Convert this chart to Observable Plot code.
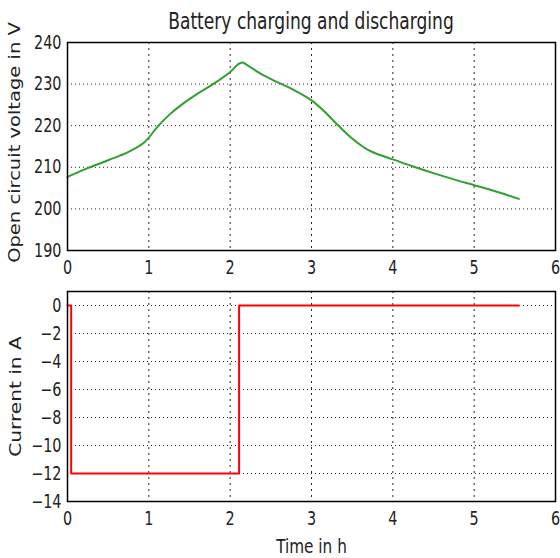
<!DOCTYPE html>
<html>
<head>
<meta charset="utf-8">
<script src="https://cdn.jsdelivr.net/npm/d3@7"></script>
<script src="https://cdn.jsdelivr.net/npm/@observablehq/plot@0.6"></script>
<style>
  html, body { margin: 0; padding: 0; background: white; }
  #wrap { width: 560px; height: 558px; position: relative; overflow: hidden; }
  #title { height: 30px; width: 488px; margin-left: 67px; text-align: center;
           font-family: "DejaVu Sans Condensed", "DejaVu Sans", sans-serif; font-size: 19px;
           line-height: 40px; color: #222; white-space: nowrap; transform: scaleY(1.2); transform-origin: 50% 60%; }
  svg { display: block; overflow: visible; }
</style>
</head>
<body>
<div id="wrap">
  <div id="title">Battery charging and discharging</div>
  <div id="p1"></div>
  <div id="p2"></div>
</div>
<script>
// Time (h) and open circuit voltage (V)
const voltTime = [0, 0.25, 0.5, 0.75, 0.95, 1.1, 1.25, 1.4, 1.6, 1.8, 2.0, 2.1, 2.15, 2.2, 2.4, 2.6, 2.8, 3.0, 3.15, 3.3, 3.5, 3.7, 3.85, 4.0, 4.25, 4.5, 4.75, 5.0, 5.25, 5.55];
const voltage  = [207.7, 209.8, 211.7, 213.7, 216.1, 219.6, 222.6, 225.0, 227.7, 230.1, 232.9, 234.8, 235.2, 234.7, 232.2, 230.3, 228.4, 226.1, 223.6, 220.6, 216.9, 214.1, 212.9, 211.9, 210.2, 208.6, 207.1, 205.7, 204.3, 202.4];
// Time (h) and current (A)
const currTime = [0, 0.045, 0.045, 2.11, 2.11, 5.55];
const current  = [0, 0, -12, -12, 0, 0];

const xTicks = [0, 1, 2, 3, 4, 5, 6];
const vTicks = [190, 200, 210, 220, 230, 240];
const iTicks = [-14, -12, -10, -8, -6, -4, -2, 0];

const xLabel = "Time in h";
const vLabel = "Open circuit voltage in V";
const iLabel = "Current in A";

const voltData = voltTime.map((t, i) => ({t, v: voltage[i]}));
const currData = currTime.map((t, i) => ({t, a: current[i]}));

const tickFont = "'DejaVu Sans Condensed', 'DejaVu Sans', sans-serif";
const labelFont = "'DejaVu Sans', sans-serif";

function common(yTicks) {
  return [
    Plot.gridY(yTicks, {stroke: "black", strokeOpacity: 0.85, strokeDasharray: "1,3", strokeWidth: 1}),
    Plot.gridX(xTicks, {stroke: "black", strokeOpacity: 0.85, strokeDasharray: "2,4", strokeWidth: 1}),
    Plot.axisY(yTicks, {tickSize: 0, tickPadding: 6, fontSize: 16, fontFamily: tickFont, fill: "#222", label: null}),
    Plot.axisX(xTicks, {tickSize: 0, tickPadding: 11, fontSize: 16, fontFamily: tickFont, fill: "#222", label: null})
  ];
}

// mimic the reference's stretched text: scale each text around its own centre
function stretch(svg) {
  svg.querySelectorAll("text").forEach(el => {
    const txt = el.textContent;
    const bb = el.getBBox();
    const cx = bb.x + bb.width / 2, cy = bb.y + bb.height / 2;
    const rotated = txt === vLabel || txt === iLabel;
    const sx = txt === vLabel ? 1.22 : rotated ? 1.26 : 1, sy = rotated ? 1 : 1.18;
    const prev = el.getAttribute("transform") || "";
    el.setAttribute("transform", `${prev} translate(${cx},${cy}) scale(${sx},${sy}) translate(${-cx},${-cy})`);
  });
}

const p1 = Plot.plot({
  width: 560, height: 250,
  marginLeft: 67, marginRight: 5, marginTop: 12, marginBottom: 30,
  x: {domain: [0, 6]},
  y: {domain: [190, 240]},
  marks: [
    ...common(vTicks),
    Plot.line(voltData, {x: "t", y: "v", stroke: "#30a030", strokeWidth: 2, curve: "catmull-rom"}),
    Plot.frame({stroke: "black", strokeWidth: 1.5}),
    Plot.text([vLabel], {frameAnchor: "left", textAnchor: "middle", dx: -53, dy: -4, rotate: -90, fontSize: 16, fontFamily: labelFont, fill: "#222"})
  ]
});
document.getElementById("p1").append(p1);
stretch(p1);

const p2 = Plot.plot({
  width: 560, height: 278,
  marginLeft: 67, marginRight: 5, marginTop: 11, marginBottom: 57,
  x: {domain: [0, 6]},
  y: {domain: [-14, 1]},
  marks: [
    ...common(iTicks),
    Plot.line(currData, {x: "t", y: "a", stroke: "red", strokeWidth: 2}),
    Plot.frame({stroke: "black", strokeWidth: 1.5}),
    Plot.text([iLabel], {frameAnchor: "left", textAnchor: "middle", dx: -52, rotate: -90, fontSize: 16, fontFamily: labelFont, fill: "#222"}),
    Plot.text([xLabel], {frameAnchor: "bottom", dy: 50, fontSize: 17, fontFamily: tickFont, fill: "#222"})
  ]
});
document.getElementById("p2").append(p2);
stretch(p2);
</script>
</body>
</html>
